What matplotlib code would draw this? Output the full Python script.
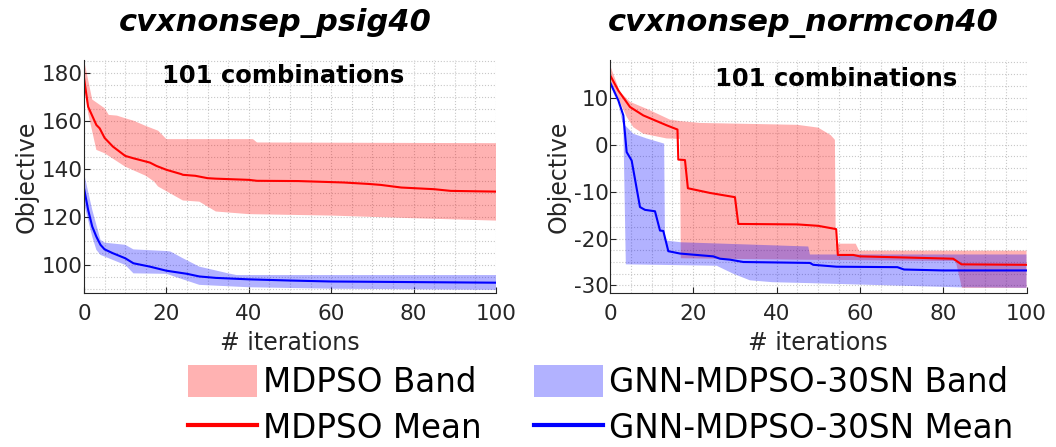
import numpy as np
import matplotlib.pyplot as plt
from matplotlib.patches import Patch
from matplotlib.lines import Line2D
from matplotlib.ticker import MultipleLocator

plt.rcParams['font.family'] = ['DejaVu Sans']
plt.rcParams['axes.unicode_minus'] = False

# ---- data ----
# cvxnonsep_psig40
psig_red_mean_x = [0, 1, 3, 3.8, 5, 7, 10, 12, 16, 17.6, 20, 23.6, 24, 27, 30, 32, 40, 42, 52, 63, 69, 72, 77, 85, 89, 100]
psig_red_mean_y = [178, 166, 158.4, 157, 153, 149.4, 145.5, 144.5, 142.7, 141.3, 139.7, 137.9, 137.6, 137.2, 136.2,
                   136, 135.5, 135.1, 135, 134.4, 133.8, 133.4, 132.3, 131.6, 130.9, 130.6]
psig_red_up_x = [0, 2, 5, 6, 8, 10, 12, 15, 18, 20, 41, 42, 100]
psig_red_up_y = [185.5, 169, 165.4, 162.6, 162.3, 161.2, 160.2, 158, 156, 152.5, 152.5, 151.1, 150.8]
psig_red_lo_x = [0, 1, 3, 5, 10, 15, 17, 18, 24, 28, 32, 40, 60, 80, 100]
psig_red_lo_y = [176, 163.3, 148, 146.6, 141, 137.2, 134.8, 132.7, 126.9, 126.4, 122.3, 121.2, 120.6, 119.5, 118.5]
psig_blue_mean_x = [0, 1, 2, 3, 4, 5, 7, 10, 12, 16, 20, 25, 28, 32, 40, 50, 60, 100]
psig_blue_mean_y = [132, 123, 116, 111.8, 108.4, 106.5, 104.9, 102.8, 100.7, 99.3, 97.6, 96.3, 95.2, 94.6, 94, 93.5,
                    93.1, 92.6]
psig_blue_up_x = [0, 2, 4, 5, 10, 12, 20, 21, 24, 28, 35, 37, 100]
psig_blue_up_y = [138.3, 123, 110.5, 109.3, 108.4, 106.5, 105.8, 105.6, 102.8, 99.3, 96.5, 95.8, 95.8]
psig_blue_lo_x = [0, 2, 3, 4, 5, 10, 12, 20, 28, 40, 60, 100]
psig_blue_lo_y = [125.7, 111.8, 106.3, 104.2, 103.5, 100, 96.5, 96.3, 91.7, 90.7, 90.1, 89.6]

# cvxnonsep_normcon40
norm_red_mean_x = [0, 2, 4.8, 8, 13.6, 16.2, 16.4, 18, 18.7, 24, 30, 30.8, 45, 50, 54.3, 54.7, 58.4, 60, 82.4,
                   84.4, 100]
norm_red_mean_y = [14.8, 11.5, 8, 6.2, 4.1, 3.2, -3.2, -3.3, -9.3, -10.3, -11.2, -16.9, -17, -17.3, -18, -23.5,
                   -23.5, -23.8, -24.3, -25.5, -25.6]
norm_red_up_x = [0, 2.4, 4.8, 9.6, 14.4, 16.8, 21.6, 45, 50, 53, 54, 54.2, 59, 59.8, 100]
norm_red_up_y = [16.9, 11.2, 9.1, 7.3, 5.3, 5, 4.6, 4.2, 3.6, 2, 1, -21.1, -21.1, -22.6, -22.6]
norm_red_lo_x = [0, 4, 5.6, 8, 13.6, 16.8, 17, 45, 83, 84.5, 100]
norm_red_lo_y = [13.7, 5.9, 3.7, 2.3, 1.3, 1.2, -24.2, -24.5, -24.8, -30.5, -30.5]
norm_blue_mean_x = [0, 2, 3.2, 4, 5.2, 7.2, 8.4, 10.8, 12, 12.8, 14, 16.8, 24.8, 26.4, 28.8, 32, 48, 48.8, 54.4,
                    69, 70.6, 80, 100]
norm_blue_mean_y = [13.3, 9.4, 6.2, -1.6, -3.4, -13.3, -13.9, -14.2, -18.3, -18.4, -22.7, -23.2, -23.8, -24.3,
                    -24.5, -25, -25.2, -25.6, -26, -26.1, -26.6, -26.8, -26.8]
norm_blue_up_x = [0, 3.6, 5.6, 8.8, 13, 13.2, 17, 47.6, 48, 100]
norm_blue_up_y = [13.7, 4.1, 2.3, 1.3, 0.2, -20.4, -20.8, -21.7, -23.4, -23.4]
norm_blue_lo_x = [0, 2, 3.2, 3.8, 25.6, 29.6, 33.6, 39, 48, 84, 100]
norm_blue_lo_y = [12.8, 8.5, 4, -25.5, -25.8, -27.5, -28.9, -29.3, -29.5, -30.4, -30.5]

titles = ['cvxnonsep_psig40', 'cvxnonsep_normcon40']
labels = ['MDPSO Band', 'MDPSO Mean', 'GNN-MDPSO-30SN Band', 'GNN-MDPSO-30SN Mean']

TXT = '#262626'


def band(ax, ux, uy, lx, ly, color):
    xs = np.r_[ux, lx[::-1]]
    ys = np.r_[uy, ly[::-1]]
    ax.fill(xs, ys, color=color, alpha=0.3, lw=0)


def style(ax, ylim, ymajor, yminor):
    ax.set_xlim(0, 100)
    ax.set_ylim(*ylim)
    ax.xaxis.set_major_locator(MultipleLocator(20))
    ax.xaxis.set_minor_locator(MultipleLocator(5))
    ax.yaxis.set_major_locator(MultipleLocator(ymajor))
    ax.yaxis.set_minor_locator(MultipleLocator(yminor))
    ax.grid(True, which='both', color='#c8c8c8', ls=':', lw=0.8)
    ax.set_axisbelow(True)
    for s in ['top', 'right']:
        ax.spines[s].set_visible(False)
    for s in ['left', 'bottom']:
        ax.spines[s].set_color(TXT)
    ax.tick_params(which='major', direction='in', length=4, labelsize=15.5, colors=TXT)
    ax.tick_params(axis='x', which='major', pad=8)
    ax.tick_params(axis='y', which='major', pad=1)
    ax.tick_params(which='minor', length=0)
    ax.set_xlabel('# iterations', fontsize=17, color=TXT, labelpad=5)
    ax.set_ylabel('Objective', fontsize=17, color=TXT, labelpad=2)


fig = plt.figure(figsize=(10.56, 4.47), dpi=100)
ax1 = fig.add_axes([84 / 1056, 154 / 447, 412 / 1056, 233 / 447])
ax2 = fig.add_axes([610 / 1056, 154 / 447, 416.5 / 1056, 233 / 447])

# left panel
band(ax1, psig_red_up_x, psig_red_up_y, psig_red_lo_x, psig_red_lo_y, 'red')
ax1.plot(psig_red_mean_x, psig_red_mean_y, color='red', lw=1.5)
band(ax1, psig_blue_up_x, psig_blue_up_y, psig_blue_lo_x, psig_blue_lo_y, 'blue')
ax1.plot(psig_blue_mean_x, psig_blue_mean_y, color='blue', lw=1.5)
style(ax1, (88.3, 185.5), 20, 5)
ax1.text(0.483, 0.931, '101 combinations', transform=ax1.transAxes, ha='center', va='center',
         fontsize=17.5, fontweight='bold')

# right panel
band(ax2, norm_red_up_x, norm_red_up_y, norm_red_lo_x, norm_red_lo_y, 'red')
ax2.plot(norm_red_mean_x, norm_red_mean_y, color='red', lw=1.5)
band(ax2, norm_blue_up_x, norm_blue_up_y, norm_blue_lo_x, norm_blue_lo_y, 'blue')
ax2.plot(norm_blue_mean_x, norm_blue_mean_y, color='blue', lw=1.5)
style(ax2, (-31.6, 18), 10, 2.5)
ax2.text(0.542, 0.918, '101 combinations', transform=ax2.transAxes, ha='center', va='center',
         fontsize=17.5, fontweight='bold')

fig.text(275 / 1056, 1 - 23 / 447, titles[0], ha='center', va='center', fontsize=22,
         fontweight='bold', fontstyle='italic')
fig.text(803 / 1056, 1 - 23 / 447, titles[1], ha='center', va='center', fontsize=22,
         fontweight='bold', fontstyle='italic')

handles = [Patch(facecolor='red', alpha=0.3, lw=0),
           Line2D([], [], color='red', lw=3),
           Patch(facecolor='blue', alpha=0.3, lw=0),
           Line2D([], [], color='blue', lw=3)]
fig.legend(handles, labels, ncol=2, loc='center', bbox_to_anchor=(601 / 1056, 1 - 405 / 447),
           frameon=False, fontsize=23.5, handlelength=2.1, handleheight=1.15, handletextpad=0.2,
           columnspacing=1.6, labelspacing=0.36, borderpad=0)

fig.savefig('out.png', dpi=100)
